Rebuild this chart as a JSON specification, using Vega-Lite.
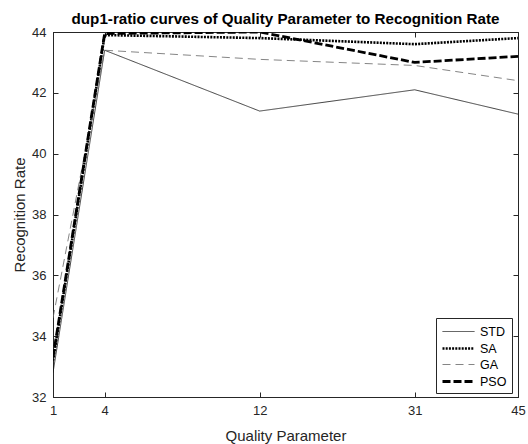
{
  "$schema": "https://vega.github.io/schema/vega-lite/v6.json",
  "autosize": "none",
  "width": 465,
  "height": 365,
  "padding": {"left": 53, "top": 32, "right": 10, "bottom": 47},
  "background": "white",
  "title": {
    "text": "dup1-ratio curves of Quality Parameter to Recognition Rate",
    "fontSize": 15.2,
    "fontWeight": "bold",
    "font": "Liberation Sans",
    "color": "black",
    "offset": -1,
    "frame": "group",
    "anchor": "middle"
  },
  "config": {
    "font": "Liberation Sans",
    "view": {"stroke": "#262626", "strokeWidth": 1}
  },
  "data": {
    "values": [
      {"series": "STD", "pos": 0, "q": 1, "rate": 32.8},
      {"series": "STD", "pos": 1, "q": 4, "rate": 43.4},
      {"series": "STD", "pos": 4, "q": 12, "rate": 41.4},
      {"series": "STD", "pos": 7, "q": 31, "rate": 42.1},
      {"series": "STD", "pos": 9, "q": 45, "rate": 41.3},
      {"series": "SA", "pos": 0, "q": 1, "rate": 33.2},
      {"series": "SA", "pos": 1, "q": 4, "rate": 43.9},
      {"series": "SA", "pos": 4, "q": 12, "rate": 43.8},
      {"series": "SA", "pos": 7, "q": 31, "rate": 43.6},
      {"series": "SA", "pos": 9, "q": 45, "rate": 43.8},
      {"series": "GA", "pos": 0, "q": 1, "rate": 34.6},
      {"series": "GA", "pos": 1, "q": 4, "rate": 43.4},
      {"series": "GA", "pos": 4, "q": 12, "rate": 43.1},
      {"series": "GA", "pos": 7, "q": 31, "rate": 42.9},
      {"series": "GA", "pos": 9, "q": 45, "rate": 42.4},
      {"series": "PSO", "pos": 0, "q": 1, "rate": 33.3},
      {"series": "PSO", "pos": 1, "q": 4, "rate": 43.95},
      {"series": "PSO", "pos": 4, "q": 12, "rate": 44.0},
      {"series": "PSO", "pos": 7, "q": 31, "rate": 43.0},
      {"series": "PSO", "pos": 9, "q": 45, "rate": 43.2}
    ]
  },
  "layer": [
    {
      "mark": {"type": "line", "clip": true},
      "encoding": {
        "x": {
          "field": "pos",
          "type": "quantitative",
          "scale": {"domain": [0, 9], "nice": false, "zero": false},
          "axis": {
            "title": "Quality Parameter",
            "titleFont": "Liberation Sans",
            "titleFontSize": 15,
            "titleFontWeight": "normal",
            "titleColor": "#262626",
            "titlePadding": 11,
            "values": [0, 1, 4, 7, 9],
            "labelExpr": "datum.value == 0 ? '1' : datum.value == 1 ? '4' : datum.value == 4 ? '12' : datum.value == 7 ? '31' : '45'",
            "labelFontSize": 13,
            "labelColor": "#262626",
            "labelPadding": 12,
            "labelFlush": false,
            "tickSize": -5,
            "tickColor": "#262626",
            "domainColor": "#262626",
            "grid": false
          }
        },
        "y": {
          "field": "rate",
          "type": "quantitative",
          "scale": {"domain": [32, 44], "nice": false, "zero": false},
          "axis": {
            "title": "Recognition Rate",
            "titleFont": "Liberation Sans",
            "titleFontSize": 15,
            "titleFontWeight": "normal",
            "titleColor": "#262626",
            "titlePadding": 4,
            "values": [32, 34, 36, 38, 40, 42, 44],
            "labelFontSize": 13,
            "labelColor": "#262626",
            "labelPadding": 12,
            "tickSize": -5,
            "tickColor": "#262626",
            "domainColor": "#262626",
            "grid": false
          }
        },
        "color": {
          "field": "series",
          "type": "nominal",
          "scale": {"domain": ["STD", "SA", "GA", "PSO"], "range": ["#111111", "#000000", "#666666", "#000000"]},
          "legend": {
            "title": null,
            "orient": "none",
            "legendX": 383,
            "legendY": 286,
            "fillColor": "white",
            "strokeColor": "#262626",
            "padding": 5,
            "labelFontSize": 12.5,
            "labelColor": "#000000",
            "symbolType": "M-1,0L3,0",
            "symbolSize": 256,
            "rowPadding": 1,
            "labelOffset": 20
          }
        },
        "strokeDash": {
          "field": "series",
          "type": "nominal",
          "scale": {"type": "ordinal", "domain": ["STD", "SA", "GA", "PSO"], "range": [[1, 0], [2, 1.2], [8, 5], [8, 3]]}
        },
        "strokeWidth": {
          "field": "series",
          "type": "nominal",
          "scale": {"type": "ordinal", "domain": ["STD", "SA", "GA", "PSO"], "range": [0.8, 2.6, 0.8, 2.8]}
        }
      }
    },
    {
      "mark": {"type": "line", "opacity": 0},
      "encoding": {
        "detail": {"field": "series"},
        "x": {
          "field": "pos",
          "type": "quantitative",
          "axis": {"orient": "top", "title": null, "labels": false, "values": [0, 1, 4, 7, 9], "tickSize": -5, "tickColor": "#262626", "domainColor": "#262626", "grid": false}
        },
        "y": {
          "field": "rate",
          "type": "quantitative",
          "axis": {"orient": "right", "title": null, "labels": false, "values": [32, 34, 36, 38, 40, 42, 44], "tickSize": -5, "tickColor": "#262626", "domainColor": "#262626", "grid": false}
        }
      }
    }
  ],
  "resolve": {"axis": {"x": "independent", "y": "independent"}}
}
